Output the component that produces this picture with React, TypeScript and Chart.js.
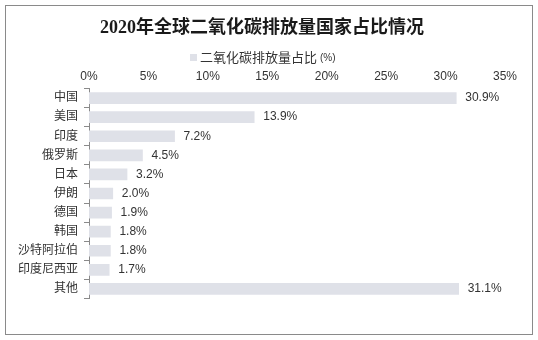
import React, { useEffect, useRef } from "react";
import { Chart, registerables } from "chart.js";

Chart.register(...registerables);

const categories = ["中国", "美国", "印度", "俄罗斯", "日本", "伊朗", "德国", "韩国", "沙特阿拉伯", "印度尼西亚", "其他"];
const shares = [30.9, 13.9, 7.2, 4.5, 3.2, 2.0, 1.9, 1.8, 1.8, 1.7, 31.1];
const valueLabels = ["30.9%", "13.9%", "7.2%", "4.5%", "3.2%", "2.0%", "1.9%", "1.8%", "1.8%", "1.7%", "31.1%"];
const chartTitle = "2020年全球二氧化碳排放量国家占比情况";
const seriesName = "二氧化碳排放量占比";
const seriesUnit = "(%)";

const SANS = "'Liberation Sans', 'Noto Sans CJK SC', sans-serif";

export default function App() {
  const ref = useRef<HTMLCanvasElement | null>(null);

  useEffect(() => {
    const canvas = ref.current;
    if (!canvas) return;

    const decor = {
      id: "decor",
      beforeDraw(chart: any) {
        const ctx = chart.ctx;
        ctx.save();
        ctx.fillStyle = "#ffffff";
        ctx.fillRect(0, 0, chart.width, chart.height);
        ctx.strokeStyle = "#8a8a8a";
        ctx.lineWidth = 1;
        ctx.strokeRect(5.5, 5.5, 527, 329);
        // title
        ctx.fillStyle = "#1a1a1a";
        ctx.font = "bold 18px 'Liberation Serif', 'Noto Sans CJK SC', serif";
        ctx.textAlign = "center";
        ctx.textBaseline = "middle";
        ctx.fillText(chartTitle, 262, 28);
        // legend
        ctx.fillStyle = "#dfe1e8";
        ctx.fillRect(190, 54, 7, 7);
        ctx.fillStyle = "#333333";
        ctx.textAlign = "left";
        ctx.font = "13px " + SANS;
        ctx.fillText(seriesName, 200, 58);
        const w = ctx.measureText(seriesName).width;
        ctx.font = "10px " + SANS;
        ctx.fillText(seriesUnit, 200 + w + 3, 58);
        ctx.restore();
      },
      afterDatasetsDraw(chart: any) {
        const ctx = chart.ctx;
        const meta = chart.getDatasetMeta(0);
        ctx.save();
        ctx.fillStyle = "#333333";
        ctx.font = "12px " + SANS;
        ctx.textAlign = "left";
        ctx.textBaseline = "middle";
        meta.data.forEach((bar: any, i: number) => {
          ctx.fillText(valueLabels[i], bar.x + 9, bar.y);
        });
        ctx.restore();
      },
    };

    const chart = new Chart(canvas, {
      type: "bar",
      data: {
        labels: categories,
        datasets: [
          {
            label: seriesName,
            data: shares,
            backgroundColor: "#dfe1e8",
            borderWidth: 0,
            barThickness: 11,
          },
        ],
      },
      options: {
        indexAxis: "y",
        responsive: false,
        animation: false,
        layout: { padding: { top: 0, right: 33, bottom: 41.5, left: 0 } },
        plugins: {
          legend: { display: false },
          title: { display: false },
          tooltip: { enabled: false },
        },
        scales: {
          x: {
            position: "top",
            min: 0,
            max: 35,
            grid: { display: false, drawTicks: false },
            border: { display: false },
            ticks: {
              stepSize: 5,
              padding: 5,
              color: "#333333",
              font: { size: 12, family: SANS },
              callback: (v: any) => `${v}%`,
            },
            afterFit: (scale: any) => {
              scale.height = 88.5;
            },
          },
          y: {
            grid: {
              display: true,
              drawOnChartArea: false,
              drawTicks: true,
              tickLength: 5,
              color: "#8a8a8a",
              offset: true,
            },
            border: { display: true, color: "#8a8a8a" },
            ticks: {
              padding: 6,
              color: "#333333",
              font: { size: 12, family: SANS },
            },
            afterFit: (scale: any) => {
              scale.width = 89;
            },
          },
        },
      },
      plugins: [decor],
    });

    return () => chart.destroy();
  }, []);

  return (
    <div style={{ position: "absolute", left: 0, top: 0, width: 538, height: 340 }}>
      <canvas ref={ref} width={538} height={340} />
    </div>
  );
}
